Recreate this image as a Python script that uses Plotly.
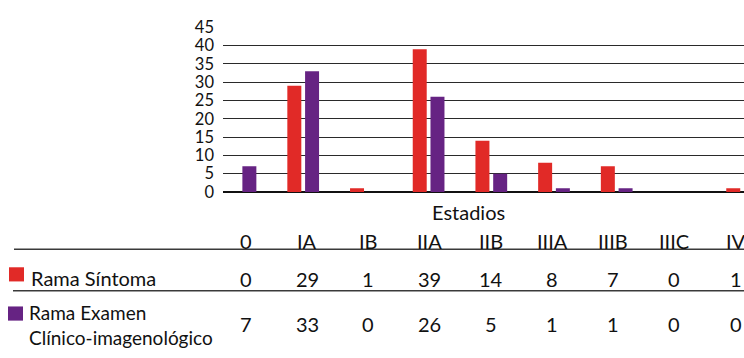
import plotly.graph_objects as go

# Stages and counts per study arm
estadios = ["0", "IA", "IB", "IIA", "IIB", "IIIA", "IIIB", "IIIC", "IV"]
rama_sintoma = [0, 29, 1, 39, 14, 8, 7, 0, 1]
rama_examen = [7, 33, 0, 26, 5, 1, 1, 0, 0]
series_names = ["Rama Síntoma", "Rama Examen<br>Clínico-imagenológico"]
y_ticks = [0, 5, 10, 15, 20, 25, 30, 35, 40, 45]

RED = "#E12A27"
PURPLE = "#662383"
FONT = "Lato, Roboto, sans-serif"
W, H = 744, 358


def py(px):
    """Convert a pixel row (from top) into paper y."""
    return 1 - px / H


def px_x(px):
    return px / W


fig = go.Figure()
fig.add_trace(go.Bar(x=estadios, y=rama_sintoma, name=series_names[0],
                     marker=dict(color=RED, line=dict(width=0)),
                     width=0.223, offset=-0.253))
fig.add_trace(go.Bar(x=estadios, y=rama_examen, name=series_names[1],
                     marker=dict(color=PURPLE, line=dict(width=0)),
                     width=0.223, offset=0.03))

fig.update_layout(
    width=W, height=H,
    margin=dict(l=0, r=0, t=0, b=0),
    paper_bgcolor="white", plot_bgcolor="white",
    showlegend=False,
    font=dict(family=FONT, size=20, color="#111"),
    xaxis=dict(domain=[px_x(223), 1], range=[-0.279, 8.03],
               showticklabels=False, showgrid=False, zeroline=False,
               showline=False, ticks=""),
    yaxis=dict(domain=[py(192.7), py(18.3)], range=[0, 45],
               tickvals=y_ticks, showgrid=True, gridcolor="#2a2a2a",
               gridwidth=1.3, zeroline=True, zerolinecolor="#111",
               zerolinewidth=1.5, ticks="", ticklabelstandoff=8,
               tickfont=dict(family=FONT, size=16.5, color="#111")),
)

annotations = []
shapes = []


def label(text, x, y, anchor="center", size=20):
    annotations.append(dict(text=text, x=px_x(x), y=py(y), xref="paper",
                            yref="paper", xanchor=anchor, yanchor="middle",
                            showarrow=False, align="left",
                            font=dict(size=size)))


# Axis title under the chart
label("Estadios", 468.7, 214)

# Data table: stage headers and values per arm
col_x = [246 + 61.2 * i for i in range(len(estadios))]
for i, est in enumerate(estadios):
    label(est, col_x[i], 244.5)
    label(str(rama_sintoma[i]), col_x[i], 285)
    label(str(rama_examen[i]), col_x[i], 333)

# Row labels with colour keys
label(series_names[0], 29, 284, "left")
label(series_names[1], 27, 334, "left", size=19)
shapes.append(dict(type="rect", xref="paper", yref="paper",
                   x0=px_x(9), x1=px_x(24), y0=py(287.5), y1=py(272.5),
                   fillcolor=RED, line=dict(width=0)))
shapes.append(dict(type="rect", xref="paper", yref="paper",
                   x0=px_x(8), x1=px_x(23), y0=py(329), y1=py(314),
                   fillcolor=PURPLE, line=dict(width=0)))

# Table rules
for y0, x0 in [(253.3, 14), (297.3, 13)]:
    shapes.append(dict(type="line", xref="paper", yref="paper",
                       x0=px_x(x0), x1=1, y0=py(y0), y1=py(y0),
                       line=dict(color="#3a3a3a", width=1.5)))

fig.update_layout(annotations=annotations, shapes=shapes)
fig.write_html("out.html")
